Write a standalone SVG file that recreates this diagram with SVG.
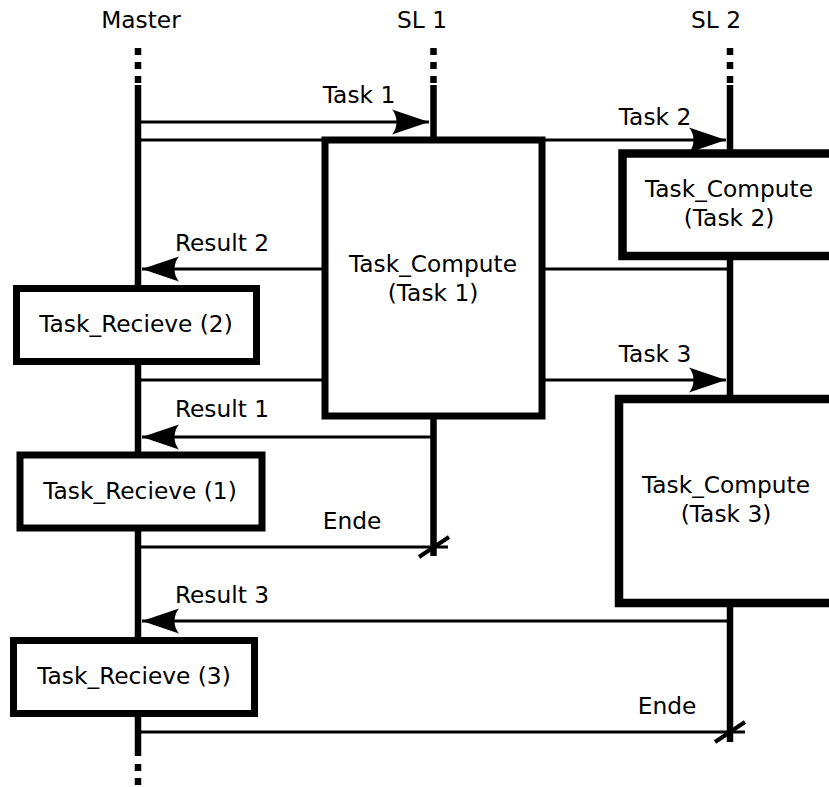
<svg xmlns="http://www.w3.org/2000/svg" width="829" height="787" viewBox="0 0 829 787">
<style>
text{font-family:"DejaVu Sans","Liberation Sans",sans-serif;font-size:23.3px;fill:#000;text-anchor:middle}
.life{stroke:#000;stroke-width:6.5;fill:none}
.dots{stroke:#000;stroke-width:6.5;fill:none;stroke-dasharray:7 7}
.msg{stroke:#000;stroke-width:3.2;fill:none}
.box{fill:#fff;stroke:#000;stroke-width:7}
.boxw{fill:#fff;stroke:#000;stroke-width:8.5}
.cross{stroke:#000;stroke-width:4;fill:none}
</style>
<defs>
<marker id="ah" markerUnits="userSpaceOnUse" orient="auto" viewBox="-38 -14 40 28" refX="0" refY="0" markerWidth="40" markerHeight="28">
<path d="M0,0 L-37,-12.5 C-31,-5.5 -31,5.5 -37,12.5 Z" fill="#000"/>
</marker>
</defs>
<g id="lifelines">
<line class="dots" x1="138" y1="48" x2="138" y2="84"/>
<line class="life" x1="138" y1="85" x2="138" y2="756"/>
<line class="dots" x1="138" y1="764" x2="138" y2="787"/>
<line class="dots" x1="433.5" y1="48" x2="433.5" y2="84"/>
<line class="life" x1="433.5" y1="85" x2="433.5" y2="556"/>
<line class="dots" x1="730" y1="48" x2="730" y2="84"/>
<line class="life" x1="730" y1="85" x2="730" y2="742"/>
</g>
<g id="connectors">
<line class="msg" x1="141" y1="122" x2="429" y2="122" marker-end="url(#ah)"/>
<line class="msg" x1="141" y1="140" x2="726" y2="140" marker-end="url(#ah)"/>
<line class="msg" x1="727" y1="269" x2="142" y2="269" marker-end="url(#ah)"/>
<line class="msg" x1="141" y1="380" x2="726" y2="380" marker-end="url(#ah)"/>
<line class="msg" x1="431" y1="437" x2="142" y2="437" marker-end="url(#ah)"/>
<line class="msg" x1="141" y1="547" x2="448" y2="547"/>
<line class="cross" x1="419" y1="557" x2="449" y2="537"/>
<line class="msg" x1="727" y1="621" x2="142" y2="621" marker-end="url(#ah)"/>
<line class="msg" x1="141" y1="732" x2="745" y2="732"/>
<line class="cross" x1="715" y1="742" x2="745" y2="722"/>
</g>
<g id="heads">
<text x="141" y="28">Master</text>
<text x="422" y="28">SL 1</text>
<text x="716" y="28">SL 2</text>
</g>
<g id="labels">
<text x="359" y="103">Task 1</text>
<text x="655" y="125">Task 2</text>
<text x="222" y="251">Result 2</text>
<text x="655" y="362">Task 3</text>
<text x="222" y="417">Result 1</text>
<text x="352" y="529">Ende</text>
<text x="222" y="603">Result 3</text>
<text x="667" y="714">Ende</text>
</g>
<g id="compute1">
<rect class="box" x="325" y="140" width="217" height="276"/>
<text x="433" y="272">Task_Compute</text>
<text x="433" y="301">(Task 1)</text>
</g>
<g id="compute2">
<rect class="boxw" x="622.5" y="153.5" width="260" height="102.5"/>
<text x="729" y="197">Task_Compute</text>
<text x="729" y="226">(Task 2)</text>
</g>
<g id="compute3">
<rect class="boxw" x="619" y="399" width="260" height="204"/>
<text x="726" y="493">Task_Compute</text>
<text x="726" y="522">(Task 3)</text>
</g>
<g id="recieve2">
<rect class="box" x="16.5" y="288.5" width="240" height="73"/>
<text x="136" y="332">Task_Recieve (2)</text>
</g>
<g id="recieve1">
<rect class="box" x="20" y="455" width="242" height="73"/>
<text x="140" y="499">Task_Recieve (1)</text>
</g>
<g id="recieve3">
<rect class="box" x="13.5" y="640.5" width="241" height="73"/>
<text x="134" y="684">Task_Recieve (3)</text>
</g>
</svg>
